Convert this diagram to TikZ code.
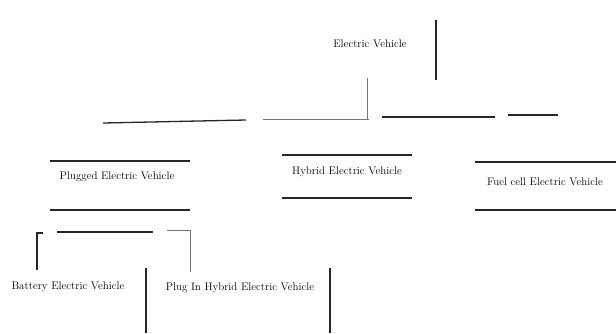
\documentclass[tikz,border=0pt]{standalone}
\begin{document}
\begin{tikzpicture}[x=1pt,y=-1pt,
  lbl/.style={inner sep=0pt,font=\fontsize{11}{13}\selectfont},
  ln/.style={line width=1.3pt,black!85},
  lnl/.style={line width=1pt,black!55}]
\useasboundingbox (0,0) rectangle (616,333);
% texts
\node[lbl] (ev) at (370,44) {Electric\,\,Vehicle};
\node[lbl] (pev) at (117,177) {Plugged Electric Vehicle};
\node[lbl] (hev) at (347,172) {Hybrid Electric Vehicle};
\node[lbl] (fcev) at (545,182) {Fuel cell Electric Vehicle};
\node[lbl] (bev) at (68,287) {Battery Electric Vehicle};
\node[lbl] (phev) at (240,288) {Plug In Hybrid Electric Vehicle};
% coordinates
\coordinate (evR1) at (436,20); \coordinate (evR2) at (436,80);
\coordinate (c1) at (367,78); \coordinate (c2) at (367,119);
\coordinate (h1a) at (103,123); \coordinate (h1b) at (246,120);
\coordinate (h2a) at (263,119); \coordinate (h2b) at (369,119);
\coordinate (h3a) at (382,117); \coordinate (h3b) at (495,117);
\coordinate (h4a) at (508,115); \coordinate (h4b) at (558,115);
\coordinate (pt1) at (50,161); \coordinate (pt2) at (190,161);
\coordinate (pb1) at (50,210); \coordinate (pb2) at (190,210);
\coordinate (ht1) at (282,155); \coordinate (ht2) at (412,155);
\coordinate (hb1) at (282,198); \coordinate (hb2) at (412,198);
\coordinate (ft1) at (475,162); \coordinate (ft2) at (616,162);
\coordinate (fb1) at (475,210); \coordinate (fb2) at (616,210);
\coordinate (bl1) at (37,270); \coordinate (bl2) at (37,233); \coordinate (bl3) at (43,233);
\coordinate (bm1) at (57,232); \coordinate (bm2) at (153,232);
\coordinate (br1) at (167,230); \coordinate (br2) at (190,230); \coordinate (br3) at (190,272);
\coordinate (v1a) at (146,268); \coordinate (v1b) at (146,333);
\coordinate (v2a) at (330,268); \coordinate (v2b) at (330,333);
% lines
\draw[ln] (evR1) -- (evR2);
\draw[lnl] (c1) -- (c2);
\draw[ln] (h1a) -- (h1b);
\draw[lnl] (h2a) -- (h2b);
\draw[ln] (h3a) -- (h3b);
\draw[ln] (h4a) -- (h4b);
\draw[ln] (pt1) -- (pt2);
\draw[ln] (pb1) -- (pb2);
\draw[ln] (ht1) -- (ht2);
\draw[ln] (hb1) -- (hb2);
\draw[ln] (ft1) -- (ft2);
\draw[ln] (fb1) -- (fb2);
\draw[ln] (bl1) -- (bl2) -- (bl3);
\draw[ln] (bm1) -- (bm2);
\draw[lnl] (br1) -- (br2) -- (br3);
\draw[ln] (v1a) -- (v1b);
\draw[ln] (v2a) -- (v2b);
\end{tikzpicture}
\end{document}
